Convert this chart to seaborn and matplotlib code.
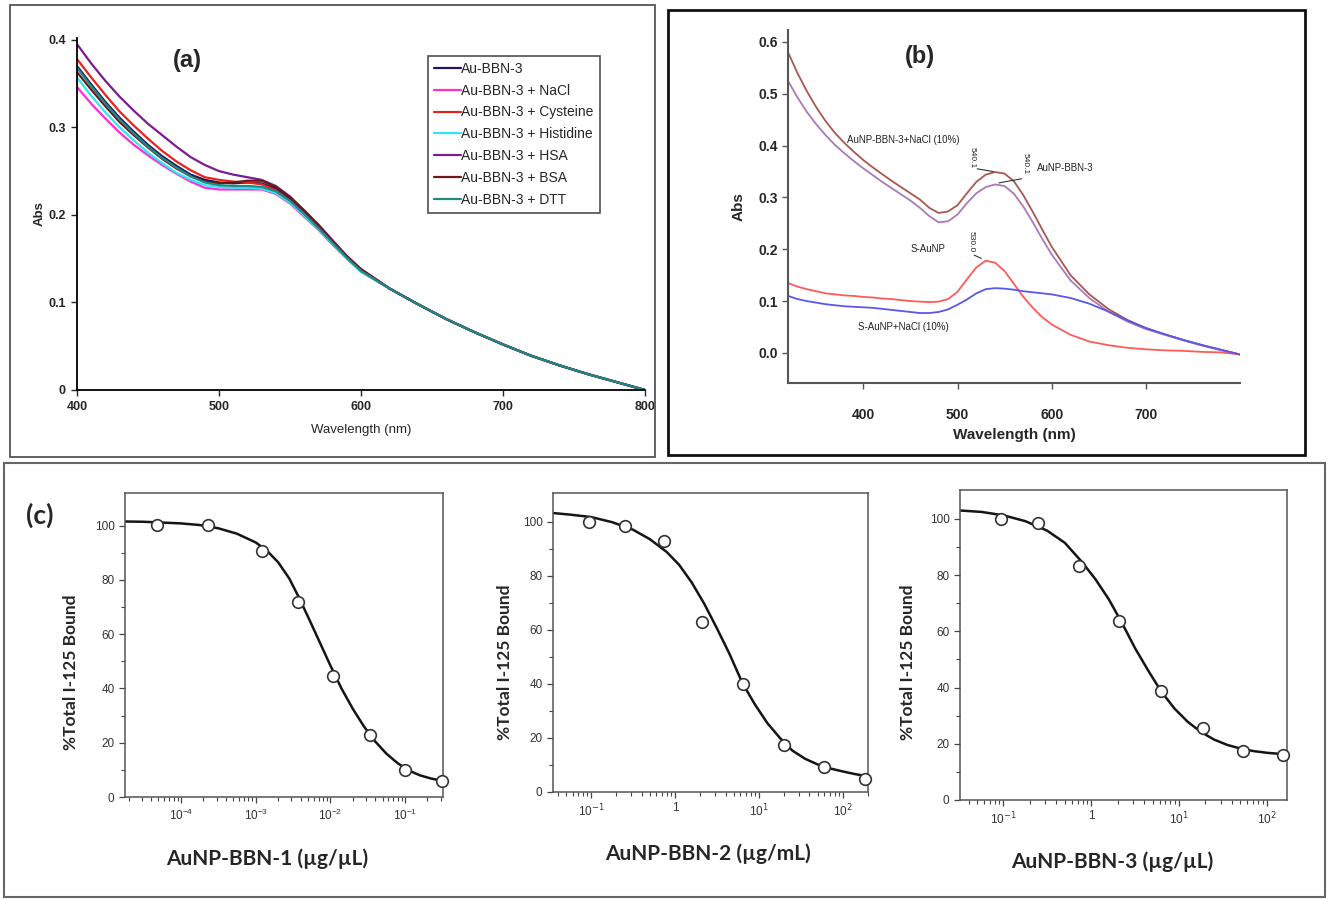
import numpy as np
import pandas as pd
import matplotlib
matplotlib.use("Agg")
import matplotlib.pyplot as plt
from matplotlib.patches import Rectangle
from matplotlib.ticker import NullFormatter
import seaborn as sns

sns.set_style("ticks")
plt.rcParams['font.family'] = ['Liberation Sans', 'DejaVu Sans']

# ---------------- (a) UV-Vis stability of Au-BBN-3 ----------------
wl_a = [400, 410, 420, 430, 440, 450, 460, 470, 480, 490, 500, 510, 520, 530, 540,
        550, 560, 570, 580, 590, 600, 620, 640, 660, 680, 700, 720, 740, 760, 780, 800]
tail_a = [0.116, 0.098, 0.081, 0.066, 0.052, 0.039, 0.028, 0.018, 0.009, 0.0]
abs_au = [0.370, 0.349, 0.329, 0.311, 0.295, 0.280, 0.267, 0.256, 0.246, 0.240, 0.237,
          0.236, 0.237, 0.236, 0.230, 0.218, 0.203, 0.187, 0.170, 0.152, 0.137] + tail_a
abs_nacl = [0.346, 0.327, 0.310, 0.294, 0.280, 0.268, 0.257, 0.247, 0.238, 0.231, 0.229,
            0.229, 0.229, 0.229, 0.224, 0.213, 0.198, 0.183, 0.166, 0.150, 0.135] + tail_a
abs_cys = [0.378, 0.357, 0.337, 0.318, 0.302, 0.287, 0.273, 0.261, 0.251, 0.243, 0.240,
           0.238, 0.237, 0.235, 0.228, 0.216, 0.201, 0.185, 0.168, 0.151, 0.136] + tail_a
abs_his = [0.357, 0.336, 0.317, 0.300, 0.285, 0.271, 0.259, 0.248, 0.240, 0.234, 0.232,
           0.231, 0.231, 0.230, 0.225, 0.214, 0.199, 0.184, 0.167, 0.150, 0.135] + tail_a
abs_hsa = [0.395, 0.373, 0.353, 0.335, 0.319, 0.304, 0.291, 0.278, 0.266, 0.257, 0.250,
           0.246, 0.243, 0.240, 0.233, 0.221, 0.205, 0.189, 0.171, 0.153, 0.138] + tail_a
abs_bsa = [0.363, 0.343, 0.324, 0.306, 0.291, 0.277, 0.264, 0.253, 0.244, 0.238, 0.236,
           0.237, 0.239, 0.239, 0.232, 0.220, 0.205, 0.188, 0.170, 0.153, 0.138] + tail_a
abs_dtt = [0.368, 0.347, 0.327, 0.309, 0.293, 0.278, 0.265, 0.254, 0.244, 0.237, 0.234,
           0.233, 0.233, 0.232, 0.227, 0.216, 0.201, 0.185, 0.168, 0.151, 0.136] + tail_a
samples_a = ['Au-BBN-3', 'Au-BBN-3 + NaCl', 'Au-BBN-3 + Cysteine', 'Au-BBN-3 + Histidine',
             'Au-BBN-3 + HSA', 'Au-BBN-3 + BSA', 'Au-BBN-3 + DTT']
colors_a = ['#1c1a5c', '#ff2bd6', '#e8231e', '#2fe6f2', '#7a1d8e', '#6a1818', '#1e8a86']

# ---------------- (b) UV-Vis of AuNP / S-AuNP ----------------
wl_b = [320, 330, 340, 350, 360, 370, 380, 390, 400, 410, 420, 430, 440, 450, 460, 470,
        480, 490, 500, 510, 520, 530, 540, 550, 560, 570, 580, 590, 600,
        620, 640, 660, 680, 700, 720, 740, 760, 780, 800]
abs_bbn3_nacl = [0.580, 0.540, 0.505, 0.474, 0.447, 0.424, 0.405, 0.388, 0.372, 0.358,
                 0.345, 0.332, 0.320, 0.308, 0.296, 0.280, 0.270, 0.273, 0.285, 0.308,
                 0.330, 0.344, 0.349, 0.346, 0.331, 0.304, 0.272, 0.238, 0.205,
                 0.150, 0.113, 0.085, 0.064, 0.048, 0.036, 0.025, 0.015, 0.006, -0.003]
abs_bbn3 = [0.525, 0.493, 0.465, 0.441, 0.420, 0.401, 0.385, 0.370, 0.356, 0.343,
            0.330, 0.318, 0.306, 0.294, 0.280, 0.264, 0.252, 0.254, 0.267, 0.289,
            0.308, 0.320, 0.325, 0.322, 0.307, 0.282, 0.252, 0.220, 0.190,
            0.140, 0.106, 0.080, 0.061, 0.046, 0.035, 0.024, 0.014, 0.005, -0.003]
abs_saunp = [0.135, 0.128, 0.123, 0.119, 0.115, 0.113, 0.111, 0.110, 0.108, 0.107,
             0.105, 0.104, 0.102, 0.100, 0.099, 0.098, 0.099, 0.104, 0.118, 0.142,
             0.165, 0.178, 0.174, 0.158, 0.133, 0.108, 0.087, 0.069, 0.055,
             0.035, 0.022, 0.015, 0.010, 0.007, 0.005, 0.004, 0.002, 0.001, -0.003]
abs_saunp_nacl = [0.110, 0.104, 0.100, 0.097, 0.094, 0.092, 0.090, 0.089, 0.088, 0.087,
                  0.085, 0.083, 0.081, 0.079, 0.077, 0.077, 0.079, 0.084, 0.093, 0.103,
                  0.115, 0.123, 0.125, 0.124, 0.122, 0.119, 0.117, 0.115, 0.113,
                  0.106, 0.095, 0.080, 0.063, 0.048, 0.036, 0.025, 0.015, 0.006, -0.003]
colors_b = ['#a8584f', '#a97ab8', '#ff5a5a', '#5858ec']

# ---------------- (c) competitive binding curves ----------------
c1_conc = [4.8e-5, 2.3e-4, 1.2e-3, 3.7e-3, 1.1e-2, 3.4e-2, 0.10, 0.31]
c1_bound = [100.2, 100.2, 90.5, 72.0, 44.4, 22.9, 10.0, 6.0]
c1_fit_x = [1.78e-5, 3.16e-5, 5.62e-5, 1e-4, 1.78e-4, 3.16e-4, 5.62e-4, 1e-3, 1.41e-3,
            2.0e-3, 2.82e-3, 3.72e-3, 5.01e-3, 7.08e-3, 1e-2, 1.41e-2, 2.0e-2, 2.82e-2,
            3.98e-2, 5.62e-2, 7.94e-2, 0.112, 0.158, 0.224, 0.309]
c1_fit_y = [101.5, 101.4, 101.1, 100.8, 100.2, 99.0, 97.0, 93.8, 90.8, 86.5, 80.5, 74.0,
            66.5, 57.5, 48.5, 40.0, 32.5, 26.0, 20.5, 16.0, 12.5, 9.8, 8.0, 6.8, 6.0]

c2_conc = [0.095, 0.25, 0.74, 2.1, 6.5, 20, 60, 186]
c2_bound = [100.0, 98.5, 93.0, 62.7, 39.9, 17.4, 9.4, 4.7]
c2_fit_x = [0.0347, 0.0562, 0.1, 0.178, 0.316, 0.501, 0.794, 1.12, 1.58, 2.24, 3.16, 4.47,
            6.31, 8.91, 12.6, 17.8, 25.1, 35.5, 50.1, 70.8, 100, 141, 200]
c2_fit_y = [103.2, 102.6, 101.7, 99.8, 97.0, 93.5, 88.8, 84.0, 77.5, 69.5, 60.5, 51.0,
            40.5, 32.5, 25.5, 20.0, 15.3, 12.3, 10.2, 8.7, 7.6, 6.6, 5.8]

c3_conc = [0.095, 0.25, 0.72, 2.1, 6.3, 18.6, 54, 155]
c3_bound = [100.0, 98.5, 83.3, 63.8, 38.8, 25.7, 17.5, 16.0]
c3_fit_x = [0.0324, 0.0562, 0.1, 0.178, 0.316, 0.501, 0.794, 1.12, 1.58, 2.24, 3.16, 4.47,
            6.31, 8.91, 12.6, 17.8, 25.1, 35.5, 50.1, 70.8, 100, 170]
c3_fit_y = [103.0, 102.5, 101.3, 99.2, 95.8, 91.5, 84.5, 78.5, 71.5, 63.0, 54.0, 46.0,
            38.5, 32.5, 27.8, 24.2, 21.5, 19.6, 18.3, 17.4, 16.8, 16.2]

# ---------------- figure ----------------
W, H = 1327, 899
fig = plt.figure(figsize=(W / 100, H / 100), dpi=100)


def box(x0, y0, x1, y1):
    return [x0 / W, 1 - y1 / H, (x1 - x0) / W, (y1 - y0) / H]


# panel frames
for (x0, y0, x1, y1), lw, col in [((10, 5, 655, 457), 1.3, '#555555'),
                                  ((668, 10, 1305, 455), 2.0, '#111111'),
                                  ((4, 463, 1325, 897), 1.5, '#666666')]:
    fig.patches.append(Rectangle((x0 / W, 1 - y1 / H), (x1 - x0) / W, (y1 - y0) / H,
                                 transform=fig.transFigure, fill=False, lw=lw, ec=col))

# (a)
ax_a = fig.add_axes(box(77, 38, 645, 390))
df_a = pd.DataFrame({
    'Wavelength': wl_a * len(samples_a),
    'Abs': abs_au + abs_nacl + abs_cys + abs_his + abs_hsa + abs_bsa + abs_dtt,
    'Sample': np.repeat(samples_a, len(wl_a)),
})
sns.lineplot(data=df_a, x='Wavelength', y='Abs', hue='Sample', hue_order=samples_a,
             palette=dict(zip(samples_a, colors_a)), lw=1.6, ax=ax_a)
ax_a.set_xlim(400, 800)
ax_a.set_ylim(0, 0.402)
ax_a.set_xticks([400, 500, 600, 700, 800])
ax_a.set_yticks([0, 0.1, 0.2, 0.3, 0.4])
ax_a.set_yticklabels(['0', '0.1', '0.2', '0.3', '0.4'])
ax_a.tick_params(labelsize=9, length=4, width=1.0, pad=4)
for t in ax_a.get_xticklabels() + ax_a.get_yticklabels():
    t.set_fontweight('bold')
ax_a.set_xlabel('Wavelength (nm)', fontsize=9.5, labelpad=8)
ax_a.set_ylabel('Abs', fontsize=9.5, fontweight='bold', labelpad=2)
for s in ['top', 'right']:
    ax_a.spines[s].set_visible(False)
for s in ['left', 'bottom']:
    ax_a.spines[s].set_color('black')
    ax_a.spines[s].set_linewidth(1.3)
h, l = ax_a.get_legend_handles_labels()
leg = ax_a.legend(h, l, loc='upper right', bbox_to_anchor=(0.92, 0.95), fontsize=10,
                  frameon=True, fancybox=False, edgecolor='#222222', handlelength=1.95,
                  handletextpad=0.0, labelspacing=0.56, borderpad=0.45, borderaxespad=0)
leg.get_frame().set_linewidth(1.2)
fig.text(187 / W, 1 - 60 / H, '(a)', fontsize=17, fontweight='bold', ha='center', va='center')

# (b)
ax_b = fig.add_axes(box(788, 30, 1240, 383))
for vals, col in zip([abs_bbn3_nacl, abs_bbn3, abs_saunp, abs_saunp_nacl], colors_b):
    sns.lineplot(x=wl_b, y=vals, color=col, lw=1.3, ax=ax_b)
ax_b.set_xlim(320, 800)
ax_b.set_ylim(-0.058, 0.623)
ax_b.set_xticks([400, 500, 600, 700])
ax_b.set_yticks([0.0, 0.1, 0.2, 0.3, 0.4, 0.5, 0.6])
ax_b.set_yticklabels(['0.0', '0.1', '0.2', '0.3', '0.4', '0.5', '0.6'])
ax_b.tick_params(labelsize=10, length=4, width=1.0, color='#555555')
ax_b.tick_params(axis='x', pad=14)
for t in ax_b.get_xticklabels() + ax_b.get_yticklabels():
    t.set_fontweight('bold')
ax_b.set_xlabel('Wavelength (nm)', fontsize=11, fontweight='bold', labelpad=4)
ax_b.set_ylabel('Abs', fontsize=11, fontweight='bold', labelpad=9)
for s in ['top', 'right']:
    ax_b.spines[s].set_visible(False)
for s in ['left', 'bottom']:
    ax_b.spines[s].set_color('#555555')
    ax_b.spines[s].set_linewidth(1.5)
fig.text(920 / W, 1 - 57 / H, '(b)', fontsize=17, fontweight='bold', ha='center', va='center')

# peak labels
small = dict(fontsize=7, color='#222222')
ax_b.text(383, 0.41, 'AuNP-BBN-3+NaCl (10%)', ha='left', va='center', **small)
ax_b.text(584, 0.356, 'AuNP-BBN-3', ha='left', va='center', **small)
ax_b.text(450, 0.201, 'S-AuNP', ha='left', va='center', **small)
ax_b.text(394, 0.05, 'S-AuNP+NaCl (10%)', ha='left', va='center', **small)
ax_b.text(516, 0.376, '540.1', rotation=270, ha='center', va='center', fontsize=6, color='#222222')
ax_b.text(572, 0.365, '540.1', rotation=270, ha='center', va='center', fontsize=6, color='#222222')
ax_b.text(514, 0.215, '530.0', rotation=270, ha='center', va='center', fontsize=6, color='#222222')
ax_b.annotate('', xy=(541, 0.349), xytext=(518, 0.356),
              arrowprops=dict(arrowstyle='-', color='#333333', lw=0.8))
ax_b.annotate('', xy=(541, 0.327), xytext=(571, 0.337),
              arrowprops=dict(arrowstyle='-', color='#333333', lw=0.8))
ax_b.annotate('', xy=(528, 0.180), xytext=(515, 0.191),
              arrowprops=dict(arrowstyle='-', color='#333333', lw=0.8))

# (c)
c_axes = [fig.add_axes(box(125, 493, 443, 797)),
          fig.add_axes(box(553, 493, 868, 792)),
          fig.add_axes(box(960, 490, 1287, 800))]
c_data = [(c1_conc, c1_bound, c1_fit_x, c1_fit_y), (c2_conc, c2_bound, c2_fit_x, c2_fit_y),
          (c3_conc, c3_bound, c3_fit_x, c3_fit_y)]
c_xlims = [(1.78e-5, 0.323), (0.035, 200), (0.032, 170)]
c_ylims = [(0, 112), (0, 110.6), (0, 110.3)]
c_xlabels = ['AuNP-BBN-1 (µg/µL)', 'AuNP-BBN-2 (µg/mL)', 'AuNP-BBN-3 (µg/µL)']
c_xlab_pos = [(0.447, -0.168), (0.492, -0.171), (0.465, -0.165)]
c_ylab_pos = [(-0.145, 0.41), (-0.127, 0.435), (-0.135, 0.445)]
lato = ['Lato', 'DejaVu Sans']

for ax, (cx, cy, fx, fy), xl, yl, lab, xp, yp in zip(c_axes, c_data, c_xlims, c_ylims,
                                                      c_xlabels, c_xlab_pos, c_ylab_pos):
    ax.set_xscale('log')
    sns.lineplot(x=fx, y=fy, color='#151515', lw=1.8, ax=ax)
    sns.scatterplot(x=cx, y=cy, ax=ax, s=70, facecolor='white', edgecolor='#333333',
                    linewidth=1.2, zorder=3, clip_on=False)
    ax.set_xlim(*xl)
    ax.set_ylim(*yl)
    ax.set_yticks([0, 20, 40, 60, 80, 100])
    ax.set_yticks([10, 30, 50, 70, 90], minor=True)
    ax.xaxis.set_minor_formatter(NullFormatter())
    ax.tick_params(which='major', labelsize=8.5, length=4, width=0.9, color='#444444',
                   labelcolor='#333333')
    ax.tick_params(which='minor', length=3, width=0.8, color='#444444')
    for s in ax.spines.values():
        s.set_color('#555555')
        s.set_linewidth(1.1)
    ax.set_xlabel(lab, fontsize=15, fontweight='bold', family=lato)
    ax.xaxis.set_label_coords(*xp)
    ax.set_ylabel('%Total I-125 Bound', fontsize=12.5, fontweight='bold', family=lato)
    ax.yaxis.set_label_coords(*yp)

for ax in c_axes[1:]:
    ax.set_xticks([0.1, 1, 10, 100])
    ax.set_xticklabels(['10$^{-1}$', '1', '10$^{1}$', '10$^{2}$'])

fig.text(40 / W, 1 - 515 / H, '(c)', fontsize=19, fontweight='bold', family=lato,
         ha='center', va='center')

fig.savefig('out.png', dpi=100)
